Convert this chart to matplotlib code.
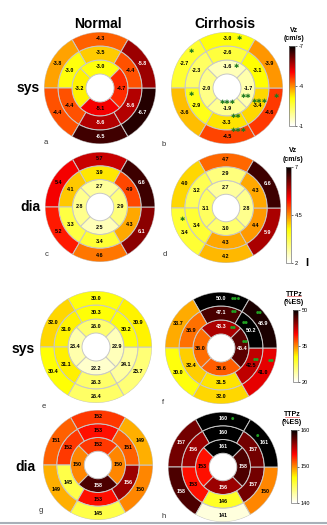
import numpy as np
import matplotlib
matplotlib.use("Agg")
import matplotlib.pyplot as plt
from matplotlib.colors import LinearSegmentedColormap, Normalize
from matplotlib.cm import ScalarMappable
from matplotlib.lines import Line2D

plt.rcParams['font.family'] = ['Liberation Sans', 'DejaVu Sans']

W, H = 327, 525

### segment order, outer and middle ring: top, upper-left, lower-left, bottom, lower-right, upper-right
### inner ring: top, left, bottom, right
aOuter = [-4.3, -3.8, -4.4, -6.5, -6.7, -5.8]
aMiddle = [-3.5, -3.0, -4.4, -5.6, -5.6, -4.4]
aInner = [-3.0, -3.2, -5.1, -4.7]

bOuter = [-3.0, -2.7, -3.6, -4.5, -4.6, -3.9]
bMiddle = [-2.6, -2.3, -2.9, -3.3, -3.4, -3.1]
bInner = [-1.6, -2.0, -1.9, -1.7]

cOuter = [5.7, 5.4, 5.2, 4.6, 6.1, 6.6]
cMiddle = [3.9, 4.1, 3.3, 3.4, 4.3, 4.9]
cInner = [2.7, 2.8, 2.5, 2.9]

dOuter = [4.7, 4.0, 3.4, 4.2, 5.9, 6.6]
dMiddle = [2.9, 3.2, 3.4, 4.3, 4.4, 4.3]
dInner = [2.7, 3.1, 3.0, 2.8]

eOuter = [30.0, 32.0, 30.4, 26.4, 25.7, 30.9]
eMiddle = [30.3, 31.0, 31.1, 26.3, 24.1, 30.2]
eInner = [26.0, 23.4, 22.2, 22.9]

fOuter = [50.0, 33.7, 30.0, 32.0, 41.0, 48.9]
fMiddle = [47.1, 35.9, 32.4, 31.5, 42.5, 50.2]
fInner = [43.3, 36.0, 36.6, 46.4]

gOuter = [152, 151, 149, 145, 150, 149]
gMiddle = [153, 152, 145, 153, 156, 151]
gInner = [152, 150, 158, 150]

hOuter = [160, 157, 158, 141, 150, 161]
hMiddle = [160, 156, 153, 146, 157, 157]
hInner = [161, 153, 156, 158]

vzSysTicks = [-7, -4, -1]
vzDiaTicks = [2, 4.5, 7]
ttpSysTicks = [20, 35, 50]
ttpDiaTicks = [140, 150, 160]

### significance marks: (ring, segment, count, dx px, dy px) relative to the segment label
bMarks = [("outer", 0, 1, 12, 0), ("outer", 1, 1, 7, 12), ("inner", 0, 1, 9, 0),
          ("outer", 2, 1, 7, 18), ("inner", 2, 3, 1, 7), ("inner", 3, 2, -2, -9),
          ("middle", 4, 3, 2, 4), ("outer", 4, 1, 7, 16), ("middle", 3, 2, 9, 6),
          ("outer", 3, 3, 12, 6)]
dMarks = [("outer", 2, 1, -2, 13)]
fMarks = [("outer", 0, 3, 15, 0), ("middle", 0, 2, 13, 1), ("outer", 5, 2, -4, 11),
          ("middle", 5, 2, -6, 8), ("inner", 0, 2, 12, -1), ("inner", 3, 2, 3, 6),
          ("middle", 4, 2, 5, 6), ("outer", 4, 2, 8, 12)]
hMarks = [("outer", 0, 1, 9, 0), ("outer", 5, 1, -7, 7)]

cmap = LinearSegmentedColormap.from_list(
    "bull", [(0, "#000000"), (0.33, "#ff0000"), (0.65, "#ffff00"), (1, "#ffffff")])
cmapR = cmap.reversed()

radii = [0.25, 0.5, 0.75, 1.0]
ringAngles6 = np.deg2rad([90, 150, 210, 270, 330, 30])
ringAngles4 = np.deg2rad([90, 180, 270, 0])


def fx(x):
    return x / W


def fy(y):
    return 1 - y / H


def drawBullseye(fig, cx, cy, R, outer, middle, inner, norm, cm, fmt, marks, markText, markColor, markSize):
    ax = fig.add_axes([fx(cx - R), fy(cy + R), 2 * R / W, 2 * R / H], projection="polar")
    ax.set_ylim(0, 1)
    ax.set_axis_off()
    rings = {
        "inner": (inner, ringAngles4, np.pi / 2, radii[0]),
        "middle": (middle, ringAngles6, np.pi / 3, radii[1]),
        "outer": (outer, ringAngles6, np.pi / 3, radii[2]),
    }
    for name, (vals, angles, width, r0) in rings.items():
        colors = cm(norm(np.array(vals, dtype=float)))
        ax.bar(angles, 0.25, width=width, bottom=r0, color=colors,
               edgecolor="#c8c8c8", linewidth=0.7, align="center")
        for th, v, col in zip(angles, vals, colors):
            lum = 0.3 * col[0] + 0.59 * col[1] + 0.11 * col[2]
            tc = "white" if lum < 0.22 else "black"
            ax.text(th, r0 + 0.125, fmt.format(v), ha="center", va="center",
                    fontsize=3.9, fontweight="bold", color=tc)
    for ring, seg, n, dx, dy in marks:
        vals, angles, width, r0 = rings[ring]
        ax.annotate(markText * n, xy=(angles[seg], r0 + 0.125), xytext=(dx, dy),
                    textcoords="offset pixels", ha="center", va="center",
                    fontsize=markSize, color=markColor, family="DejaVu Sans")
    return ax


def drawColorbar(fig, x0, x1, y0, y1, norm, cm, ticks, invert, title1, title2, tx):
    cax = fig.add_axes([fx(x0), fy(y1), (x1 - x0) / W, (y1 - y0) / H])
    cb = fig.colorbar(ScalarMappable(norm=norm, cmap=cm), cax=cax, ticks=ticks)
    if invert:
        cax.invert_yaxis()
    cb.outline.set_linewidth(0.5)
    cb.outline.set_edgecolor("#777777")
    cax.tick_params(length=1.5, width=0.4, labelsize=4, pad=1)
    cax.set_yticklabels([("%g" % t) for t in ticks])
    fig.text(fx(tx), fy(y0 - 16), title1, ha="center", va="center", fontsize=5, fontweight="bold")
    fig.text(fx(tx), fy(y0 - 8), title2, ha="center", va="center", fontsize=5, fontweight="bold")


fig = plt.figure(figsize=(W / 100, H / 100), dpi=100)
fig.patch.set_facecolor("white")

vzSysNorm = Normalize(-7, -1)
vzDiaNorm = Normalize(2, 7)
ttpSysNorm = Normalize(20, 50)
ttpDiaNorm = Normalize(140, 160)

star = "\u2731"
dot = "\u25cf"

drawBullseye(fig, 100, 88, 56, aOuter, aMiddle, aInner, vzSysNorm, cmap, "{:.1f}", [], star, "g", 5)
drawBullseye(fig, 227, 88, 56, bOuter, bMiddle, bInner, vzSysNorm, cmap, "{:.1f}", bMarks, star, "#1f7a1f", 4.6)
drawBullseye(fig, 100, 207, 55, cOuter, cMiddle, cInner, vzDiaNorm, cmapR, "{:.1f}", [], star, "g", 5)
drawBullseye(fig, 226, 208, 55, dOuter, dMiddle, dInner, vzDiaNorm, cmapR, "{:.1f}", dMarks, star, "#1f7a1f", 4.6)
drawBullseye(fig, 96, 347, 56, eOuter, eMiddle, eInner, ttpSysNorm, cmapR, "{:.1f}", [], dot, "g", 3)
drawBullseye(fig, 221, 348, 56, fOuter, fMiddle, fInner, ttpSysNorm, cmapR, "{:.1f}", fMarks, dot, "#22a022", 2.8)
drawBullseye(fig, 98, 465, 55, gOuter, gMiddle, gInner, ttpDiaNorm, cmapR, "{:d}", [], dot, "g", 3)
drawBullseye(fig, 223, 467, 55, hOuter, hMiddle, hInner, ttpDiaNorm, cmapR, "{:d}", hMarks, dot, "#22a022", 2.8)

drawColorbar(fig, 289, 295, 46, 126, vzSysNorm, cmap, vzSysTicks, True, "Vz", "(cm/s)", 294)
drawColorbar(fig, 286, 291, 167, 263, vzDiaNorm, cmapR, vzDiaTicks, False, "Vz", "(cm/s)", 293)
drawColorbar(fig, 293, 298, 310, 382, ttpSysNorm, cmapR, ttpSysTicks, False, "TTPz", "(%ES)", 294)
drawColorbar(fig, 291, 297, 430, 503, ttpDiaNorm, cmapR, ttpDiaTicks, False, "TTPz", "(%ES)", 292)

### red spell-check underline under TTPz
for x0, y in [(287, 296), (285, 417)]:
    fig.add_artist(Line2D([fx(x0), fx(x0 + 14)], [fy(y), fy(y)], color="#e03030", lw=0.4))

fig.text(fx(98), fy(24), "Normal", ha="center", va="center", fontsize=10, fontweight="bold")
fig.text(fx(225), fy(24), "Cirrhosis", ha="center", va="center", fontsize=10, fontweight="bold")
for x, y, s in [(28, 88, "sys"), (30, 207, "dia"), (23, 349, "sys"), (25, 467, "dia")]:
    fig.text(fx(x), fy(y), s, ha="center", va="center", fontsize=10, fontweight="bold")
for x, y, s in [(46, 142, "a"), (164, 145, "b"), (47, 254, "c"), (165, 255, "d"),
                (44, 406, "e"), (163, 402, "f"), (41, 510, "g"), (164, 516, "h")]:
    fig.text(fx(x), fy(y), s, ha="center", va="center", fontsize=5.5, color="#333333")

fig.text(fx(307), fy(263), "I", ha="center", va="center", fontsize=8, fontweight="bold")
fig.add_artist(Line2D([0, 1], [fy(523), fy(523)], color="#a8b0b8", lw=1.5))

fig.savefig("out.png", dpi=100)
